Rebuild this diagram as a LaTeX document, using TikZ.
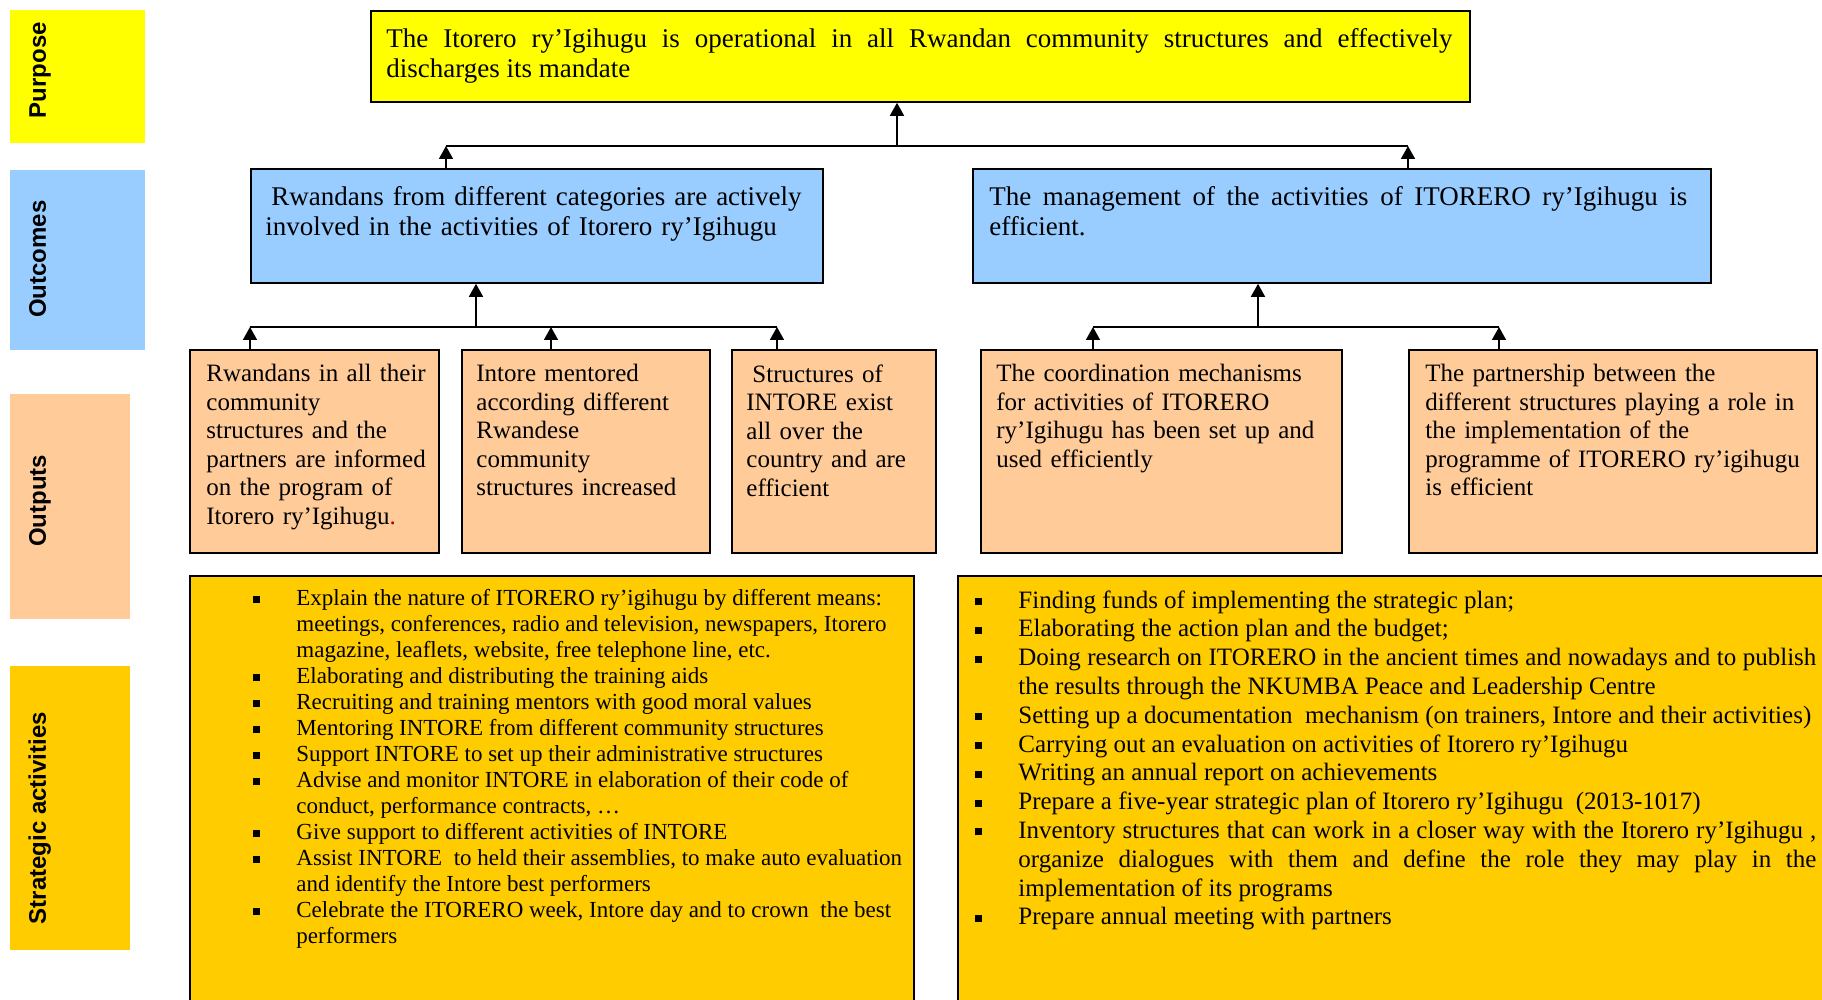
\documentclass[tikz,border=0pt]{standalone}
\usepackage{fontspec}
\setmainfont{Liberation Serif}
\setsansfont{Liberation Sans}
\definecolor{purposeyellow}{HTML}{FFFF00}
\definecolor{outcomeblue}{HTML}{99CCFF}
\definecolor{outputpeach}{HTML}{FFCC99}
\definecolor{activitygold}{HTML}{FFCC00}
\usepackage{tikz}
\usetikzlibrary{arrows.meta, calc}
\newcommand{\sqbullet}{\rule[0.12em]{3.5pt}{3.5pt}}
\newenvironment{actlist}{\begin{list}{\sqbullet}{\setlength{\leftmargin}{21.5pt}\setlength{\labelwidth}{3.5pt}\setlength{\labelsep}{18pt}\setlength{\itemsep}{0pt}\setlength{\parsep}{0pt}\setlength{\topsep}{0pt}\setlength{\partopsep}{0pt}}}{\end{list}}

\begin{document}
\begin{tikzpicture}[x=0.5pt, y=-0.5pt,
  levelbox/.style={draw=black, line width=0.9pt, anchor=north west, inner sep=0pt},
  sidebox/.style={anchor=north west, inner sep=0pt, minimum width=67.5pt},
  sidetext/.style={rotate=90, anchor=base, font=\sffamily\bfseries\fontsize{12}{14}\selectfont},
  boxtext/.style={anchor=north west, inner sep=0pt, align=left},
  link/.style={line width=0.8pt},
  uparrow/.style={link, -{Triangle[length=6.5pt, width=7pt]}}]
  \clip (0,0) rectangle (1822,1000);

  % Side labels
  \node[sidebox, fill=purposeyellow, minimum height=66.5pt] (labpurpose) at (10,10) {};
  \node[sidebox, fill=outcomeblue, minimum height=90pt] (laboutcome) at (10,170) {};
  \node[sidebox, fill=outputpeach, minimum width=60pt, minimum height=112.5pt] (laboutput) at (10,394) {};
  \node[sidebox, fill=activitygold, minimum width=60pt, minimum height=142pt] (labactivity) at (10,666) {};
  \node[sidetext] (txtpurpose) at (46,70) {Purpose};
  \node[sidetext] (txtoutcome) at (46,259) {Outcomes};
  \node[sidetext] (txtoutput) at (46,501) {Outputs};
  \node[sidetext] (txtactivity) at (46,818) {Strategic activities};

  % Purpose
  \node[levelbox, fill=purposeyellow, minimum width=549.5pt, minimum height=45.5pt] (purpose) at (370,10) {};
  \node[boxtext, text width=533pt, align=justify, font=\fontsize{13.5}{15}\selectfont] (purposetxt) at (386,28)
    {The Itorero ry’Igihugu is operational in all Rwandan community structures and effectively\linebreak discharges its mandate};

  % Outcomes
  \node[levelbox, fill=outcomeblue, minimum width=286pt, minimum height=57pt] (outcomeA) at (250,168) {};
  \node[levelbox, fill=outcomeblue, minimum width=369pt, minimum height=57pt] (outcomeB) at (972,168) {};
  \node[boxtext, text width=280pt, font=\fontsize{13.5}{15}\selectfont] (outcomeAtxt) at (265,186)
    {\hspace{3pt}Rwandans from different categories are actively\\involved in the activities of Itorero ry’Igihugu};
  \node[boxtext, text width=349pt, align=justify, font=\fontsize{13.5}{15}\selectfont] (outcomeBtxt) at (989,186)
    {The management of the activities of ITORERO ry’Igihugu is\linebreak efficient.};

  % Outputs
  \node[levelbox, fill=outputpeach, minimum width=124.5pt, minimum height=101.5pt] (outputA) at (189,349) {};
  \node[levelbox, fill=outputpeach, minimum width=124pt, minimum height=101.5pt] (outputB) at (461,349) {};
  \node[levelbox, fill=outputpeach, minimum width=102pt, minimum height=101.5pt] (outputC) at (731,349) {};
  \node[levelbox, fill=outputpeach, minimum width=180.5pt, minimum height=101.5pt] (outputD) at (980,349) {};
  \node[levelbox, fill=outputpeach, minimum width=204pt, minimum height=101.5pt] (outputE) at (1408,349) {};
  \tikzset{every node/.append style={font=\fontsize{12.5}{14.25}\selectfont}}
  \node[boxtext, text width=115pt] (outputAtxt) at (206,364)
    {Rwandans in all their\\community\\structures and the\\partners are informed\\on the program of\\Itorero ry’Igihugu\textcolor{red!70!black}{.}};
  \node[boxtext, text width=115pt] (outputBtxt) at (476,364)
    {Intore mentored\\according different\\Rwandese\\community\\structures increased};
  \node[boxtext, text width=92pt] (outputCtxt) at (746,364)
    {\hspace{3pt}Structures of\\INTORE exist\\all over the\\country and are\\efficient};
  \node[boxtext, text width=172pt] (outputDtxt) at (996,364)
    {The coordination mechanisms\\for activities of ITORERO\\ry’Igihugu has been set up and\\used efficiently};
  \node[boxtext, text width=195pt] (outputEtxt) at (1425,364)
    {The partnership between the\\different structures playing a role in\\the implementation of the\\programme of ITORERO ry’igihugu\\is efficient};

  % Strategic activities
  \node[levelbox, fill=activitygold, minimum width=362pt, minimum height=220pt] (activityA) at (189,575) {};
  \node[levelbox, fill=activitygold, minimum width=440pt, minimum height=220pt] (activityB) at (957,575) {};
  \node[boxtext, font=\fontsize{11.5}{13}\selectfont] (activityAtxt) at (253,589) {\begin{minipage}[t]{328pt}
    \begin{actlist}
      \item Explain the nature of ITORERO ry’igihugu by different means:\\meetings, conferences, radio and television, newspapers, Itorero\\magazine, leaflets, website, free telephone line, etc.
      \item Elaborating and distributing the training aids
      \item Recruiting and training mentors with good moral values
      \item Mentoring INTORE from different community structures
      \item Support INTORE to set up their administrative structures
      \item Advise and monitor INTORE in elaboration of their code of\\conduct, performance contracts, …
      \item Give support to different activities of INTORE
      \item Assist INTORE\ \ to held their assemblies, to make auto evaluation\\and identify the Intore best performers
      \item Celebrate the ITORERO week, Intore day and to crown\ \ the best\\performers
    \end{actlist}
  \end{minipage}};
  \node[boxtext, font=\fontsize{12.5}{14.4}\selectfont] (activityBtxt) at (975,590) {\begin{minipage}[t]{420.5pt}
    \begin{actlist}
      \item Finding funds of implementing the strategic plan;
      \item Elaborating the action plan and the budget;
      \item \makebox[\linewidth][s]{Doing research on ITORERO in the ancient times and nowadays and to publish}\\the results through the NKUMBA Peace and Leadership Centre
      \item Setting up a documentation\ \ mechanism (on trainers, Intore and their activities)
      \item Carrying out an evaluation on activities of Itorero ry’Igihugu
      \item Writing an annual report on achievements
      \item Prepare a five-year strategic plan of Itorero ry’Igihugu\ \ (2013-1017)
      \item \makebox[\linewidth][s]{Inventory structures that can work in a closer way with the Itorero ry’Igihugu ,}\\\makebox[\linewidth][s]{organize dialogues with them and define the role they may play in the}\\implementation of its programs
      \item Prepare annual meeting with partners
    \end{actlist}
  \end{minipage}};

  % Connectors
  \coordinate (topbar) at (897,146);
  \coordinate (topbarA) at (446,146);
  \coordinate (topbarB) at (1408,146);
  \draw[link] (topbarA) -- (topbarB);
  \draw[uparrow] (topbar) -- (topbar |- purpose.south);
  \draw[uparrow] (topbarA |- outcomeA.north) -- (topbarA);
  \draw[uparrow] (topbarB |- outcomeB.north) -- (topbarB);

  \coordinate (barA) at (476,327);
  \coordinate (barAa) at (250,327);
  \coordinate (barAb) at (551,327);
  \coordinate (barAc) at (777,327);
  \draw[link] (barAa) -- (barAc);
  \draw[uparrow] (barA) -- (barA |- outcomeA.south);
  \draw[uparrow] (barAa |- outputA.north) -- (barAa);
  \draw[uparrow] (barAb |- outputB.north) -- (barAb);
  \draw[uparrow] (barAc |- outputC.north) -- (barAc);

  \coordinate (barB) at (1258,327);
  \coordinate (barBd) at (1093,327);
  \coordinate (barBe) at (1499,327);
  \draw[link] (barBd) -- (barBe);
  \draw[uparrow] (barB) -- (barB |- outcomeB.south);
  \draw[uparrow] (barBd |- outputD.north) -- (barBd);
  \draw[uparrow] (barBe |- outputE.north) -- (barBe);
\end{tikzpicture}
\end{document}
